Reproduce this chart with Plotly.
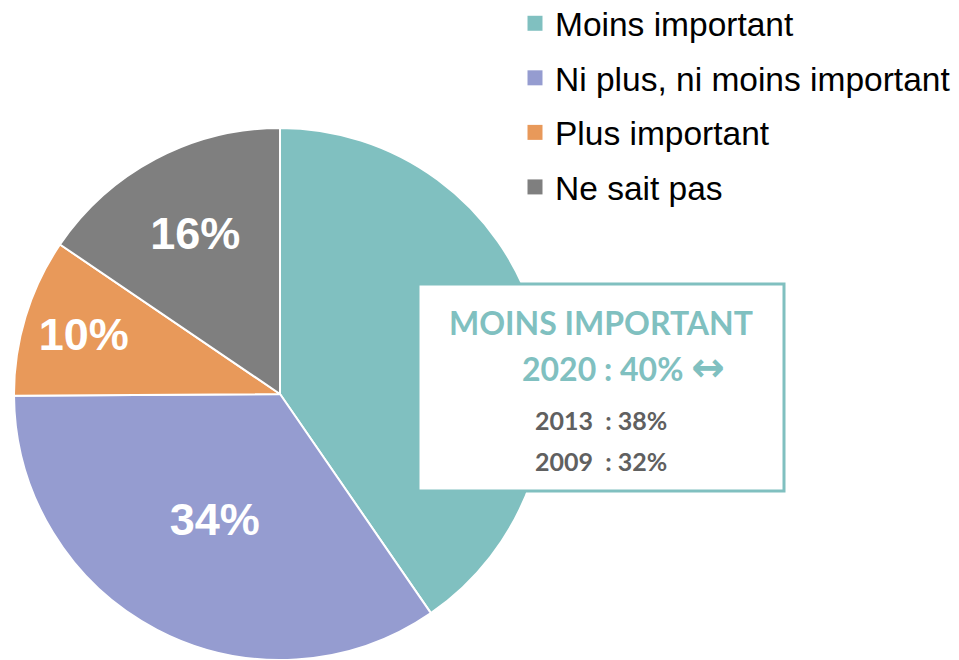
import plotly.graph_objects as go

# Données
categories = ["Moins important", "Ni plus, ni moins important", "Plus important", "Ne sait pas"]
valeurs = [40.4, 34.5, 9.6, 15.5]
etiquettes = ["", "34%", "10%", "16%"]
couleurs = ["#80C0C0", "#959CD0", "#E8995A", "#7F7F7F"]

encadre_titre = "MOINS IMPORTANT"
encadre_2020 = "2020 : 40%"
encadre_hist = ["2013  : 38%", "2009  : 32%"]

# la page ajoute une marge de 8px autour de la figure
OFF = 8
W, H = 959 - OFF, 660 - OFF


def px(x):
    return (x - OFF) / W


def py(y):
    return 1 - (y - OFF) / H


fig = go.Figure()

fig.add_trace(go.Pie(
    labels=categories,
    values=valeurs,
    text=etiquettes,
    textinfo="text",
    textposition="inside",
    insidetextorientation="horizontal",
    textfont=dict(family="Liberation Sans, Arial", size=45, color="white", weight="bold"),
    marker=dict(colors=couleurs, line=dict(color="white", width=2)),
    sort=False,
    direction="clockwise",
    rotation=0,
    showlegend=False,
    hoverinfo="label+percent",
    domain=dict(x=[px(14), px(546)], y=[0, 532 / H]),
))

# légende (traces factices pour contrôler l'espacement)
for cat, col in zip(categories, couleurs):
    fig.add_trace(go.Scatter(
        x=[None], y=[None], mode="markers", name=cat, legendgroup=cat,
        marker=dict(symbol="square", size=15, color=col),
    ))

# encadré
fig.add_shape(type="rect", xref="paper", yref="paper",
              x0=px(418), x1=px(784), y0=py(491), y1=py(284),
              line=dict(color="#80C0C0", width=3), fillcolor="white", layer="above")

fig.add_annotation(x=px(601), y=py(322), text=f"<b>{encadre_titre}</b>",
                   font=dict(family="Lato", size=32, color="#80C0C0"))
fig.add_annotation(x=px(520), y=py(367), xanchor="left",
                   text=f"<b>{encadre_2020} <span style='font-family:DejaVu Sans;font-size:40px'>\u2194</span></b>",
                   font=dict(family="Lato", size=32, color="#80C0C0"))
fig.add_annotation(x=px(601), y=py(420), text=f"<b>{encadre_hist[0]}</b>",
                   font=dict(family="Lato", size=25, color="#606060"))
fig.add_annotation(x=px(601), y=py(461), text=f"<b>{encadre_hist[1]}</b>",
                   font=dict(family="Lato", size=25, color="#606060"))
fig.update_annotations(xref="paper", yref="paper", showarrow=False, yanchor="middle")

fig.update_layout(
    width=W, height=H,
    margin=dict(l=0, r=0, t=0, b=0, autoexpand=False),
    paper_bgcolor="white",
    plot_bgcolor="white",
    xaxis=dict(visible=False),
    yaxis=dict(visible=False),
    legend=dict(
        x=px(515), y=py(-5), xanchor="left", yanchor="top",
        font=dict(family="Liberation Sans, Arial", size=33.5, color="black"),
        tracegroupgap=8,
        bgcolor="rgba(0,0,0,0)",
    ),
)

fig.write_html("out.html")
